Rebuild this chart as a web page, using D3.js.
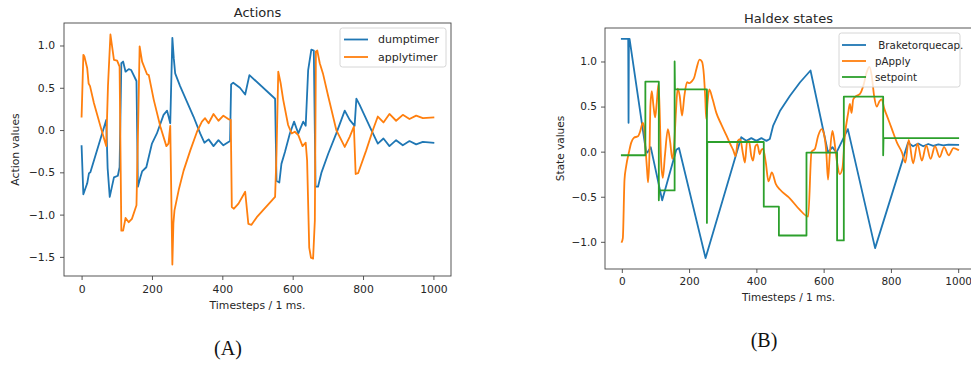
<!DOCTYPE html>
<html>
<head>
<meta charset="utf-8">
<script src="https://cdn.jsdelivr.net/npm/d3@7"></script>
<style>
  html, body { margin: 0; padding: 0; background: #fff; }
  svg { display: block; font-family: "DejaVu Sans", sans-serif; }
</style>
</head>
<body>
<svg id="fig" width="971" height="365"></svg>
<script>
// ---- tick values ----
const timeTicks = [0, 200, 400, 600, 800, 1000];
const actionTicks = [-1.5, -1.0, -0.5, 0.0, 0.5, 1.0];
const stateTicks = [-1.0, -0.5, 0.0, 0.5, 1.0];

// ---- (A) Actions: [timestep, value] ----
const dumptimer = [
  [0,-0.19],[5,-0.76],[16,-0.63],[21,-0.51],[25,-0.50],[70,0.12],[74,-0.45],[80,-0.79],
  [92,-0.56],[103,-0.54],[108,-0.44],[113,0.79],[118,0.81],[125,0.69],[134,0.72],[141,0.71],
  [156,0.58],[160,-0.67],[167,-0.56],[172,-0.49],[184,-0.44],[200,-0.16],[214,-0.04],[233,0.18],
  [243,0.23],[252,0.08],[258,1.09],[262,0.85],[266,0.67],[280,0.52],[299,0.34],[318,0.16],
  [337,-0.04],[349,-0.15],[361,-0.11],[375,-0.19],[389,-0.12],[403,-0.18],[422,-0.13],[425,0.54],
  [431,0.56],[450,0.50],[465,0.42],[477,0.65],[550,0.37],[554,-0.60],[562,-0.62],[568,-0.40],
  [578,-0.26],[592,-0.04],[604,0.10],[616,-0.04],[630,0.10],[637,0.05],[644,0.71],[653,0.95],
  [660,0.94],[665,-0.67],[672,-0.67],[682,-0.50],[701,-0.28],[724,-0.04],[748,0.23],[762,0.12],
  [776,0.05],[781,0.37],[790,0.30],[819,0.04],[842,-0.16],[858,-0.10],[875,-0.19],[894,-0.12],
  [913,-0.18],[932,-0.13],[951,-0.17],[970,-0.14],[1000,-0.15]
];
const applytimer = [
  [0,0.16],[5,0.89],[8,0.87],[16,0.73],[20,0.55],[24,0.52],[35,0.32],[54,0.04],[70,-0.19],
  [75,0.52],[82,1.13],[92,0.83],[101,0.82],[108,0.75],[113,-1.19],[118,-1.19],[125,-1.04],
  [134,-1.09],[143,-1.05],[156,-0.89],[161,0.12],[165,0.99],[172,0.81],[186,0.66],[191,0.65],
  [205,0.36],[224,0.04],[241,-0.19],[247,-0.16],[252,0.05],[258,-1.59],[261,-1.10],[264,-0.95],
  [276,-0.71],[290,-0.48],[309,-0.24],[328,-0.02],[342,0.10],[351,0.14],[361,0.08],[375,0.19],
  [389,0.11],[403,0.17],[417,0.13],[424,0.12],[427,-0.91],[433,-0.93],[446,-0.87],[465,-0.73],
  [474,-1.11],[483,-1.12],[498,-1.03],[550,-0.79],[554,-0.28],[559,0.69],[566,0.55],[573,0.36],
  [587,0.06],[597,-0.04],[606,-0.02],[616,-0.06],[628,-0.19],[637,-0.15],[641,-0.36],[647,-1.39],
  [652,-1.51],[658,-1.52],[663,-1.07],[666,0.93],[670,0.94],[677,0.79],[686,0.67],[701,0.40],
  [724,0.0],[748,-0.20],[762,-0.08],[774,0.04],[779,-0.52],[786,-0.51],[809,-0.24],[828,0.0],
  [842,0.16],[858,0.09],[875,0.19],[894,0.11],[913,0.18],[932,0.13],[951,0.17],[970,0.14],
  [1000,0.15]
];

// ---- (B) Haldex states: [timestep, value] ----
const brakeTorqueCap = [
  [0,1.25],[19,1.25],[20,0.32],[21,1.25],[23,1.25],[72,0.0],[76,-0.01],[86,0.05],[120,-0.54],
  [162,0.02],[170,0.04],[249,-1.18],[355,0.16],[370,0.12],[385,0.15],[400,0.12],[415,0.15],
  [430,0.12],[440,0.14],[450,0.29],[470,0.45],[500,0.62],[530,0.77],[561,0.90],[613,-0.01],
  [626,0.05],[638,-0.01],[672,0.25],[753,-1.07],[851,0.10],[866,0.06],[881,0.09],[896,0.06],
  [911,0.085],[926,0.065],[941,0.08],[956,0.07],[971,0.078],[1000,0.075]
];
const pApply = [
  [0,-1.0],[3,-0.96],[8,-0.31],[13,-0.16],[21,-0.01],[28,0.10],[36,0.155],[48,0.17],[55,0.23],
  [62,0.32],[66,0.28],[70,0.06],[75,-0.20],[78,-0.34],[82,-0.05],[85,0.51],[89,0.67],[94,0.51],
  [99,0.38],[104,0.55],[109,0.75],[112,0.51],[117,-0.12],[122,-0.29],[128,-0.05],[137,0.25],
  [144,0.10],[150,-0.08],[156,0.10],[161,0.45],[166,0.70],[172,0.62],[179,0.40],[186,0.62],
  [194,0.77],[201,0.76],[208,0.78],[215,0.82],[222,0.92],[231,1.02],[238,1.0],[244,0.85],
  [248,0.60],[251,0.36],[255,0.55],[260,0.69],[270,0.58],[281,0.43],[296,0.30],[311,0.18],
  [323,0.08],[331,0.02],[338,-0.05],[345,0.12],[352,0.14],[360,-0.02],[366,-0.12],[372,0.10],
  [378,0.12],[385,-0.05],[390,-0.10],[397,0.06],[403,0.08],[410,-0.03],[415,0.02],[420,0.03],
  [428,-0.12],[436,-0.33],[446,-0.23],[458,-0.36],[470,-0.42],[500,-0.52],[528,-0.64],[554,-0.72],
  [564,0.0],[574,0.03],[584,0.18],[594,0.25],[600,0.21],[608,-0.01],[613,-0.31],[618,-0.05],
  [626,0.23],[631,0.14],[640,-0.12],[648,-0.25],[656,-0.18],[663,0.17],[673,0.43],[678,0.53],
  [683,0.43],[688,0.58],[698,0.62],[708,0.64],[718,0.73],[728,0.88],[736,0.94],[743,0.84],
  [750,0.62],[758,0.50],[766,0.56],[773,0.58],[780,0.48],[788,0.40],[803,0.25],[818,0.10],
  [833,-0.01],[843,-0.12],[853,0.13],[866,-0.13],[879,0.09],[892,-0.10],[905,0.07],[918,-0.08],
  [931,0.06],[945,-0.06],[958,0.05],[972,-0.04],[986,0.04],[1000,0.02]
];
const setpoint = [
  [0,-0.04],[70,-0.04],[70,0.776],[110,0.776],[110,-0.54],[111,-0.43],[157,-0.43],[157,1.0],
  [158,0.69],[253,0.69],[253,-0.79],[254,0.107],[422,0.107],[422,-0.61],[467,-0.61],[467,-0.93],
  [549,-0.93],[549,-0.01],[640,-0.01],[640,-0.985],[660,-0.985],[660,0.61],[777,0.61],[777,-0.04],
  [778,0.15],[1000,0.15]
];

const C = { blue: "#1f77b4", orange: "#ff7f0e", green: "#2ca02c" };
const TEXT = "#262626", SPINE = "#444";
const svg = d3.select("#fig");
svg.append("rect").attr("width", 971).attr("height", 365).attr("fill", "#fff");

function drawPanel(p) {
  const g = svg.append("g");
  const x = d3.scaleLinear().domain([-50, 1050]).range([p.left, p.right]);
  const vals = p.series.flatMap(s => s.data.map(d => d[1]));
  const lo = d3.min(vals), hi = d3.max(vals), m = (hi - lo) * 0.05;
  const y = d3.scaleLinear().domain([lo - m, hi + m]).range([p.bottom, p.top]);

  const clipId = "clip-" + p.id;
  g.append("clipPath").attr("id", clipId).append("rect")
    .attr("x", p.left).attr("y", p.top)
    .attr("width", p.right - p.left).attr("height", p.bottom - p.top);

  const plot = g.append("g").attr("clip-path", `url(#${clipId})`);
  p.series.forEach(s => {
    const line = d3.line().x(d => x(d[0])).y(d => y(d[1])).curve(s.curve || d3.curveLinear);
    plot.append("path").datum(s.data)
      .attr("d", line).attr("fill", "none")
      .attr("stroke", s.color).attr("stroke-width", 1.8)
      .attr("stroke-linejoin", "round").attr("stroke-linecap", "square");
  });

  // axes
  const xa = d3.axisBottom(x).tickValues(timeTicks).tickSize(4).tickPadding(5).tickFormat(d3.format("d"));
  const ya = d3.axisLeft(y).tickValues(p.yTicks).tickSize(4).tickPadding(p.yPad).tickFormat(d3.format(".1f"));
  const gx = g.append("g").attr("transform", `translate(0,${p.bottom})`).call(xa);
  const gy = g.append("g").attr("transform", `translate(${p.left},0)`).call(ya);
  [gx, gy].forEach(a => {
    a.select(".domain").remove();
    a.selectAll("line").attr("stroke", SPINE).attr("stroke-width", 0.9);
    a.selectAll("text").attr("fill", TEXT).style("font-size", p.fs + "px")
      .style("font-family", "DejaVu Sans");
  });

  // spines
  g.append("rect").attr("x", p.left).attr("y", p.top)
    .attr("width", p.right - p.left).attr("height", p.bottom - p.top)
    .attr("fill", "none").attr("stroke", SPINE).attr("stroke-width", 0.9);

  const cx = (p.left + p.right) / 2;
  g.append("text").attr("x", p.titleX || cx).attr("y", p.titleY).attr("text-anchor", "middle")
    .attr("fill", TEXT).style("font-size", p.tfs + "px").text(p.title);
  g.append("text").attr("x", p.titleX || cx).attr("y", p.xlabY).attr("text-anchor", "middle")
    .attr("fill", TEXT).style("font-size", p.fs + "px").text("Timesteps / 1 ms.");
  g.append("text").attr("transform", `translate(${p.ylabX},${(p.top + p.bottom) / 2}) rotate(-90)`)
    .attr("text-anchor", "middle").attr("fill", TEXT).style("font-size", p.fs + "px").text(p.ylabel);

  // legend
  const L = p.legend;
  g.append("rect").attr("x", L.x).attr("y", L.y).attr("width", L.w).attr("height", L.h)
    .attr("rx", 2.5).attr("fill", "#fff").attr("fill-opacity", 0.8)
    .attr("stroke", "#d6d6d6").attr("stroke-width", 1);
  p.series.forEach((s, i) => {
    const ry = L.y + L.row0 + i * L.dy;
    g.append("line").attr("x1", L.x + L.h0).attr("x2", L.x + L.h1)
      .attr("y1", ry).attr("y2", ry).attr("stroke", s.color).attr("stroke-width", 1.8);
    g.append("text").attr("x", L.x + L.tx).attr("y", ry).attr("dy", "0.35em")
      .attr("fill", TEXT).style("font-size", L.fs + "px").style("white-space", "pre")
      .text(s.name);
  });

  // panel caption
  svg.append("text").attr("x", p.capX).attr("y", p.capY).attr("text-anchor", "middle")
    .attr("fill", "#111").style("font-family", "'Liberation Serif', 'DejaVu Serif', serif")
    .style("font-size", "20px").text(p.caption);
}

drawPanel({
  id: "a", left: 64, right: 451, top: 23, bottom: 276,
  yTicks: actionTicks, yPad: 5, fs: 10.8, tfs: 13,
  title: "Actions", titleY: 17, xlabY: 309, ylabX: 19, ylabel: "Action values",
  series: [
    { name: "dumptimer", data: dumptimer, color: C.blue },
    { name: "applytimer", data: applytimer, color: C.orange }
  ],
  legend: { x: 340, y: 28, w: 106, h: 39, row0: 11.5, dy: 17.5, h0: 4, h1: 28, tx: 38, fs: 11 },
  caption: "(A)", capX: 228, capY: 355
});

drawPanel({
  id: "b", left: 605, right: 975, top: 28, bottom: 269,
  yTicks: stateTicks, yPad: 4, fs: 10.5, tfs: 13, titleX: 788.5,
  title: "Haldex states", titleY: 23, xlabY: 301, ylabX: 564, ylabel: "State values",
  series: [
    { name: " Braketorquecap.", data: brakeTorqueCap, color: C.blue },
    { name: "pApply", data: pApply, color: C.orange, curve: d3.curveMonotoneX },
    { name: "setpoint", data: setpoint, color: C.green }
  ],
  legend: { x: 839, y: 33, w: 121, h: 54, row0: 12, dy: 16, h0: 3, h1: 27, tx: 36, fs: 10.3 },
  caption: "(B)", capX: 764, capY: 347
});
</script>
</body>
</html>
